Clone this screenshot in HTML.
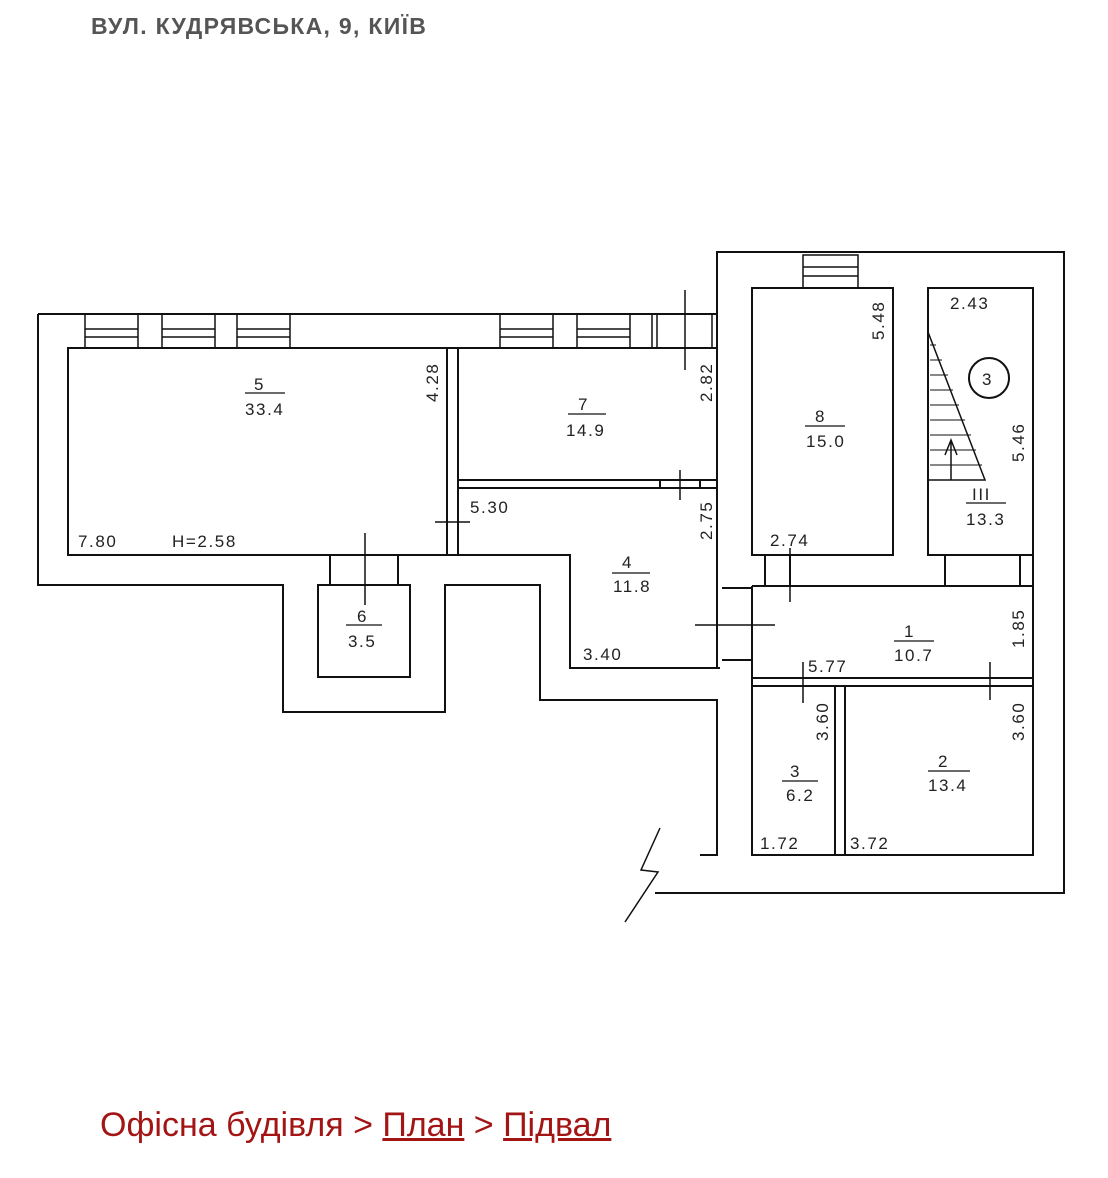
<!DOCTYPE html>
<html><head><meta charset="utf-8"><style>
html,body{margin:0;padding:0;background:#fff;}
body{width:1108px;height:1178px;position:relative;overflow:hidden;font-family:"Liberation Sans",sans-serif;}
.h{position:absolute;left:91px;top:13px;font-size:23px;font-weight:bold;color:#555;letter-spacing:1.3px}
.f{position:absolute;left:100px;top:1106px;font-size:34px;color:#a31515}
.f u{text-decoration:underline;}
svg{position:absolute;left:0;top:0}
svg text{font-family:"Liberation Sans",sans-serif;font-size:17px;fill:#222;letter-spacing:1.6px}
</style></head><body>
<div class="h">ВУЛ. КУДРЯВСЬКА, 9, КИЇВ</div>
<div class="f">Офісна будівля &gt; <u>План</u> &gt; <u>Підвал</u></div>
<svg width="1108" height="1178" viewBox="0 0 1108 1178" fill="none" stroke="#111" stroke-width="2">
<path d="M38 314 H717 V252 H1064 V893 H655 M38 314 V585 H283 V712 H445 V585 H540 V700 H717 V855 H700"/>
<path d="M660 828 L641 870 L658 872 L625 922" stroke-width="1.5"/>
<path d="M68 348 V555 H447 V348 Z"/>
<path d="M68 348 H717"/>
<path d="M458 348 V555 M447 555 H570 V668 H720"/>
<g stroke-width="1.5">
<rect x="85" y="314" width="53" height="34"/><path d="M85 329 H138 M85 337 H138"/>
<rect x="162" y="314" width="53" height="34"/><path d="M162 329 H215 M162 337 H215"/>
<rect x="237" y="314" width="53" height="34"/><path d="M237 329 H290 M237 337 H290"/>
<rect x="500" y="314" width="53" height="34"/><path d="M500 329 H553 M500 337 H553"/>
<rect x="577" y="314" width="53" height="34"/><path d="M577 329 H630 M577 337 H630"/>
<path d="M652 314 V348 M657 314 V348 M712 314 V348"/>
<rect x="803" y="255" width="55" height="33"/><path d="M803 267 H858 M803 276 H858"/>
</g>
<path d="M458 480 H717 M458 488 H717 M660 480 V488 M700 480 V488"/>
<path d="M717 314 V668 M722 588 H752 M722 660 H752"/>
<rect x="752" y="288" width="141" height="267"/>
<rect x="928" y="288" width="105" height="267"/>
<path d="M928 332 L985 480 H928" stroke-width="1.5"/>
<g stroke-width="1"><path d="M930 345 H936 M930 360 H942 M930 375 H948 M930 390 H953 M930 405 H959 M930 420 H965 M930 435 H971 M930 450 H976 M930 465 H982"/></g>
<path d="M951 480 V440 M945 455 L951 440 L957 455" stroke-width="1.5"/>
<circle cx="989" cy="378" r="20"/>
<path d="M765 555 V586 M790 555 V586 M945 555 V586 M1020 555 V586"/>
<path d="M752 586 H1033 V855 H752 V586"/>
<path d="M1033 288 V586"/>
<path d="M752 678 H1033 M752 686 H1033 M835 686 V855 M845 686 V855"/>
<path d="M330 555 V585 M398 555 V585"/>
<rect x="318" y="585" width="92" height="92"/>
<g stroke-width="1.5">
<path d="M685 290 V370 M680 470 V500 M435 522 H470 M790 548 V602 M695 625 H775 M803 662 V703 M990 662 V700 M365 533 V605"/>
</g>
<g stroke-width="1.2">
<path d="M245 393 H285 M568 414 H606 M805 426 H845 M966 503 H1006 M612 573 H650 M894 641 H934 M346 625 H382 M782 781 H818 M928 771 H970"/>
</g>
<g stroke="none">
<text x="254" y="390">5</text><text x="245" y="415">33.4</text>
<text x="578" y="410">7</text><text x="566" y="436">14.9</text>
<text x="815" y="422">8</text><text x="806" y="447">15.0</text>
<text x="972" y="500">III</text><text x="966" y="525">13.3</text>
<text x="622" y="568">4</text><text x="613" y="592">11.8</text>
<text x="904" y="637">1</text><text x="894" y="661">10.7</text>
<text x="357" y="622">6</text><text x="348" y="647">3.5</text>
<text x="790" y="777">3</text><text x="786" y="801">6.2</text>
<text x="938" y="767">2</text><text x="928" y="791">13.4</text>
<text x="982" y="385" style="letter-spacing:0">3</text>
<text x="78" y="547">7.80</text><text x="172" y="547">H=2.58</text>
<text x="470" y="513">5.30</text>
<text x="583" y="660">3.40</text>
<text x="770" y="546">2.74</text>
<text x="950" y="309">2.43</text>
<text x="808" y="672">5.77</text>
<text x="760" y="849">1.72</text><text x="850" y="849">3.72</text>
<text transform="translate(438,402) rotate(-90)">4.28</text>
<text transform="translate(712,402) rotate(-90)">2.82</text>
<text transform="translate(712,540) rotate(-90)">2.75</text>
<text transform="translate(884,340) rotate(-90)">5.48</text>
<text transform="translate(1024,462) rotate(-90)">5.46</text>
<text transform="translate(1024,648) rotate(-90)">1.85</text>
<text transform="translate(828,741) rotate(-90)">3.60</text>
<text transform="translate(1024,741) rotate(-90)">3.60</text>
</g>
</svg>
</body></html>
